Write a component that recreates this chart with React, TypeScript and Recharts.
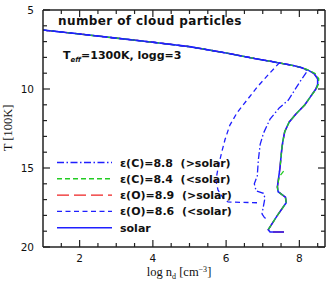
import { LineChart, Line, XAxis, YAxis } from "recharts";

const W = 329;
const H = 283;

// shared upper branch (all models coincide here)
const upperLogN = [1.0, 2.0, 3.0, 4.0, 5.0, 6.0, 6.8, 7.2, 7.45];
const upperT = [6.27, 6.52, 6.78, 7.04, 7.32, 7.72, 8.08, 8.24, 8.35];

const solarLogN = [7.8, 8.05, 8.25, 8.4, 8.5, 8.5, 8.45, 8.3, 8.15, 7.9, 7.72, 7.6, 7.55, 7.52, 7.47, 7.4, 7.42, 7.62, 7.64, 7.4, 7.15, 7.2, 7.58];
const solarT = [8.5, 8.64, 8.82, 9.02, 9.35, 9.7, 10.0, 10.5, 11.0, 11.6, 12.1, 12.7, 13.3, 13.8, 15.0, 16.2, 16.5, 16.85, 17.2, 18.0, 18.9, 19.05, 19.05];

const c84LogN = [7.8, 8.05, 8.27, 8.43, 8.53, 8.52, 8.46, 8.3, 8.15, 7.9, 7.72, 7.6, 7.55, 7.52, 7.48, 7.5, 7.57, 7.45, 7.4, 7.42, 7.62, 7.64, 7.4, 7.15];
const c84T: (number | null)[] = [8.5, 8.64, 8.82, 9.02, 9.35, 9.7, 10.0, 10.5, 11.0, 11.6, 12.1, 12.7, 13.3, 13.8, 14.8, null, 15.2, 15.55, 16.2, 16.5, 16.85, 17.2, 18.0, 18.9];

const c88LogN = [7.8, 8.05, 8.22, 8.0, 7.7, 7.45, 7.2, 7.02, 6.93, 6.88, 6.85, 6.77, 6.82, 7.02, 7.06, 6.98, 7.05, 7.12];
const c88T = [8.5, 8.64, 8.85, 9.6, 10.7, 11.2, 11.9, 12.8, 13.5, 14.5, 15.5, 16.0, 16.45, 16.6, 16.9, 17.9, 18.15, 18.2];

const o86LogN = [7.15, 6.85, 6.57, 6.3, 6.1, 5.97, 5.88, 5.78, 5.72, 5.78, 5.92, 6.05, 6.85];
const o86T = [9.1, 9.87, 10.7, 11.5, 12.3, 13.2, 14.0, 15.0, 15.8, 16.4, 16.9, 17.15, 17.2];

const xTicks = [1.5, 2, 2.5, 3, 3.5, 4, 4.5, 5, 5.5, 6, 6.5, 7, 7.5, 8, 8.5];
const xLabels = [2, 4, 6, 8];
const yTicks = [5, 6, 7, 8, 9, 10, 11, 12, 13, 14, 15, 16, 17, 18, 19, 20];
const yLabels = [5, 10, 15, 20];

const legendItems = [
  { label: "ε(C)=8.8  (>solar)", color: "#1f1fff", dash: "7 2.5 1.5 2.5" },
  { label: "ε(C)=8.4  (<solar)", color: "#22cc22", dash: "5 3" },
  { label: "ε(O)=8.9  (>solar)", color: "#ee2222", dash: "12 5" },
  { label: "ε(O)=8.6  (<solar)", color: "#1f1fff", dash: "5 3.5" },
  { label: "solar", color: "#1f1fff", dash: undefined },
];

const toPts = (xs: number[], ys: (number | null)[]) =>
  xs.map((x, i) => ({ logN: x, T: ys[i] }));

const solarData = toPts([...upperLogN, ...solarLogN], [...upperT, ...solarT]);
const c84Data = toPts([...upperLogN, ...c84LogN], [...upperT, ...c84T]);
const c88Data = toPts([...upperLogN, ...c88LogN], [...upperT, ...c88T]);
const o86Data = toPts([...upperLogN, ...o86LogN], [...upperT, ...o86T]);

const AXIS = "#222";
const TICK_FONT = { fontFamily: "DejaVu Sans", fontSize: 10.5, fill: "#111" };

const BottomTick = ({ x, y, payload }: any) => {
  const major = xLabels.includes(payload.value);
  return (
    <g>
      <line x1={x} y1={y} x2={x} y2={y - (major ? 7 : 4)} stroke={AXIS} strokeWidth={1.2} />
      {major && (
        <text x={x} y={y + 15} textAnchor="middle" {...TICK_FONT}>
          {payload.value}
        </text>
      )}
    </g>
  );
};

const TopTick = ({ x, y, payload }: any) => {
  const major = xLabels.includes(payload.value);
  return <line x1={x} y1={y} x2={x} y2={y + (major ? 7 : 4)} stroke={AXIS} strokeWidth={1.2} />;
};

const LeftTick = ({ x, y, payload }: any) => {
  const major = yLabels.includes(payload.value);
  return (
    <g>
      <line x1={x} y1={y} x2={x + (major ? 7 : 4)} y2={y} stroke={AXIS} strokeWidth={1.2} />
      {major && (
        <text x={x - 9} y={y + 4} textAnchor="end" {...TICK_FONT}>
          {payload.value}
        </text>
      )}
    </g>
  );
};

const RightTick = ({ x, y, payload }: any) => {
  const major = yLabels.includes(payload.value);
  return <line x1={x} y1={y} x2={x - (major ? 7 : 4)} y2={y} stroke={AXIS} strokeWidth={1.2} />;
};

export default function App() {
  return (
    <div style={{ position: "absolute", left: 0, top: 0, width: W, height: H, background: "#fff" }}>
      <LineChart width={W} height={H} margin={{ top: 0, right: 0, bottom: 0, left: 0 }}>
        <XAxis
          xAxisId="b"
          dataKey="logN"
          type="number"
          domain={[1, 8.7]}
          allowDataOverflow
          ticks={xTicks}
          interval={0}
          height={36}
          tickSize={0}
          tickMargin={0}
          tickLine={false}
          tick={<BottomTick />}
          axisLine={{ stroke: AXIS, strokeWidth: 1.5 }}
        />
        <XAxis
          xAxisId="t"
          orientation="top"
          dataKey="logN"
          type="number"
          domain={[1, 8.7]}
          allowDataOverflow
          ticks={xTicks}
          interval={0}
          height={10}
          tickSize={0}
          tickMargin={0}
          tickLine={false}
          tick={<TopTick />}
          axisLine={{ stroke: AXIS, strokeWidth: 1.5 }}
        />
        <YAxis
          yAxisId="l"
          type="number"
          domain={[5, 20]}
          reversed
          allowDataOverflow
          ticks={yTicks}
          interval={0}
          width={43}
          tickSize={0}
          tickMargin={0}
          tickLine={false}
          tick={<LeftTick />}
          axisLine={{ stroke: AXIS, strokeWidth: 1.5 }}
        />
        <YAxis
          yAxisId="r"
          orientation="right"
          type="number"
          domain={[5, 20]}
          reversed
          allowDataOverflow
          ticks={yTicks}
          interval={0}
          width={4}
          tickSize={0}
          tickMargin={0}
          tickLine={false}
          tick={<RightTick />}
          axisLine={{ stroke: AXIS, strokeWidth: 1.5 }}
        />
        <Line
          xAxisId="b"
          yAxisId="l"
          data={solarData}
          dataKey="T"
          type="linear"
          stroke="#ee2222"
          strokeWidth={1.3}
          strokeDasharray="12 5"
          dot={false}
          isAnimationActive={false}
        />
        <Line
          xAxisId="b"
          yAxisId="l"
          data={solarData}
          dataKey="T"
          type="linear"
          stroke="#1f1fff"
          strokeWidth={1.6}
          dot={false}
          isAnimationActive={false}
        />
        <Line
          xAxisId="b"
          yAxisId="l"
          data={c84Data}
          dataKey="T"
          type="linear"
          stroke="#22cc22"
          strokeWidth={1.3}
          strokeDasharray="5 3"
          dot={false}
          isAnimationActive={false}
        />
        <Line
          xAxisId="b"
          yAxisId="l"
          data={c88Data}
          dataKey="T"
          type="linear"
          stroke="#1f1fff"
          strokeWidth={1.3}
          strokeDasharray="7 2.5 1.5 2.5"
          dot={false}
          isAnimationActive={false}
        />
        <Line
          xAxisId="b"
          yAxisId="l"
          data={o86Data}
          dataKey="T"
          type="linear"
          stroke="#1f1fff"
          strokeWidth={1.3}
          strokeDasharray="5 3.5"
          dot={false}
          isAnimationActive={false}
        />
      </LineChart>

      <svg
        width={W}
        height={H}
        style={{ position: "absolute", left: 0, top: 0, pointerEvents: "none" }}
      >
        <text
          x={58}
          y={25}
          fontFamily="DejaVu Sans"
          fontWeight="bold"
          fontSize={12}
          letterSpacing={0.4}
          fill="#111"
        >
          number of cloud particles
        </text>
        <text x={63} y={59} fontFamily="DejaVu Sans" fontWeight="bold" fontSize={11} fill="#111">
          T
          <tspan fontSize={7} fontStyle="italic" dy={2.5}>eff</tspan>
          <tspan dy={-2.5}>=1300K, logg=3</tspan>
        </text>

        {legendItems.map((item, i) => {
          const y = 162.5 + i * 16.3;
          return (
            <g key={item.label}>
              <line
                x1={57}
                x2={112}
                y1={y}
                y2={y}
                stroke={item.color}
                strokeWidth={1.4}
                strokeDasharray={item.dash}
              />
              <text
                x={120}
                y={y + 4}
                fontFamily="DejaVu Sans"
                fontWeight="bold"
                fontSize={11}
                fill="#111"
                style={{ whiteSpace: "pre" }}
              >
                {item.label}
              </text>
            </g>
          );
        })}

        <text x={179} y={276} textAnchor="middle" fontFamily="Liberation Serif" fontSize={12.5} fill="#111">
          log n
          <tspan fontSize={8} dy={2.5}>d</tspan>
          <tspan dy={-2.5}> [cm</tspan>
          <tspan fontSize={8} dy={-4}>−3</tspan>
          <tspan dy={4}>]</tspan>
        </text>
        <text
          x={12}
          y={128}
          textAnchor="middle"
          transform="rotate(-90 12 128)"
          fontFamily="Liberation Serif"
          fontSize={12.5}
          fill="#111"
        >
          T [100K]
        </text>
      </svg>
    </div>
  );
}
